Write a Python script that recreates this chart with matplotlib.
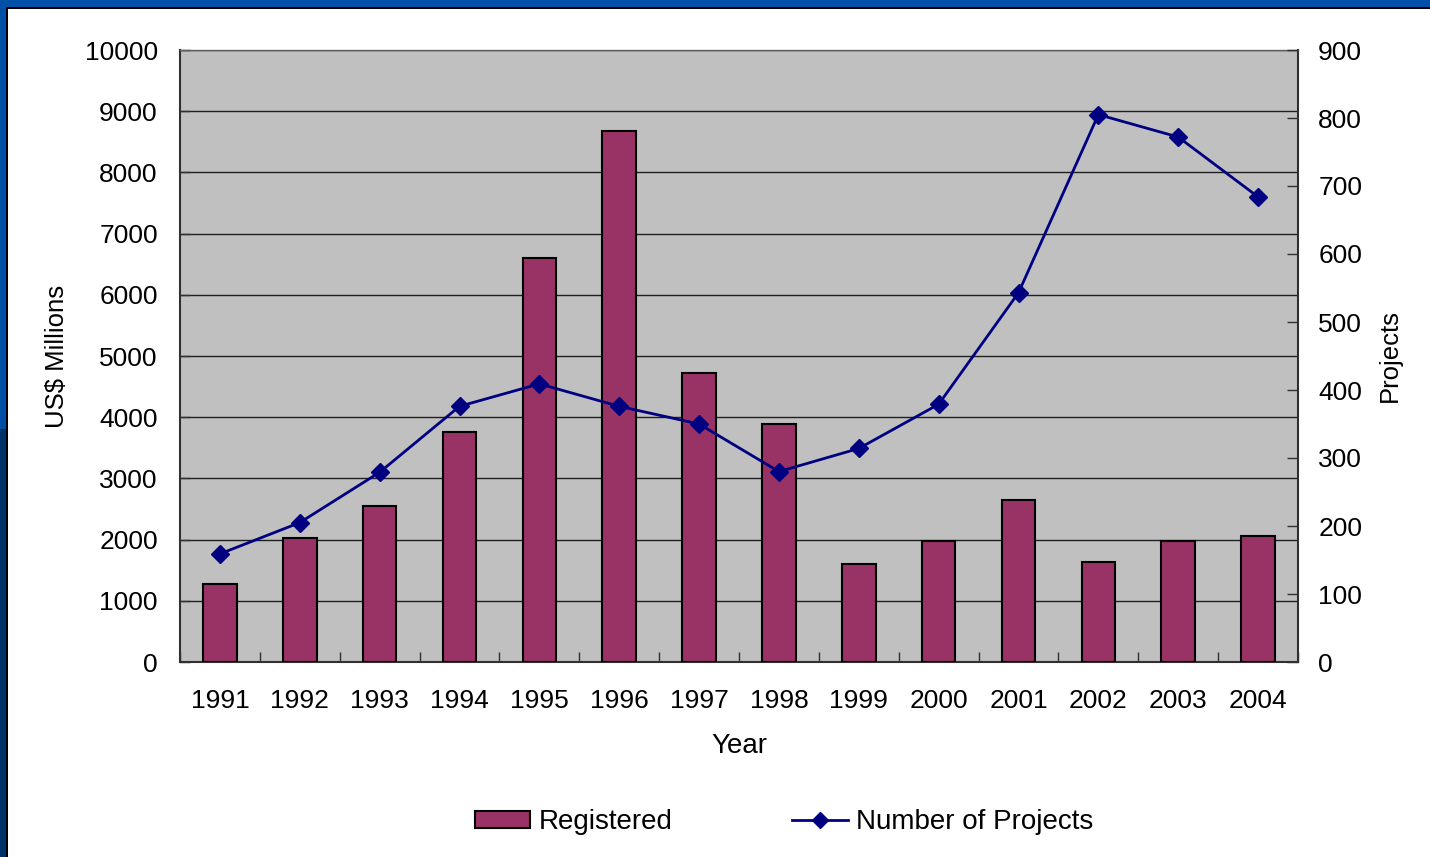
import matplotlib
matplotlib.use("Agg")
import matplotlib.pyplot as plt
from matplotlib.patches import Rectangle
from matplotlib.lines import Line2D
from matplotlib.patches import Patch
import numpy as np

plt.rcParams['font.family'] = ['Liberation Sans', 'DejaVu Sans']

years = ['1991', '1992', '1993', '1994', '1995', '1996', '1997',
         '1998', '1999', '2000', '2001', '2002', '2003', '2004']
registered = [1270, 2025, 2550, 3755, 6600, 8680, 4730,
              3885, 1600, 1985, 2640, 1630, 1985, 2060]
projects = [159, 205, 279, 376, 409, 376, 350,
            280, 314, 379, 543, 805, 772, 684]

W, H = 1430, 857
fig = plt.figure(figsize=(W / 100, H / 100), dpi=100)
fig.patch.set_facecolor('white')

# slide background border
fig.patches.append(Rectangle((0, 0), 1, 1, transform=fig.transFigure,
                             facecolor='#0050A8', edgecolor='none', zorder=-3))
fig.patches.append(Rectangle((0, 0), 6 / W, 0.5, transform=fig.transFigure,
                             facecolor='#003468', edgecolor='none', zorder=-3))
fig.patches.append(Rectangle((6 / W, 0), 1, 1 - 7 / H, transform=fig.transFigure,
                             facecolor='black', edgecolor='none', zorder=-2))
fig.patches.append(Rectangle((8 / W, 0), 1, 1 - 9 / H, transform=fig.transFigure,
                             facecolor='white', edgecolor='none', zorder=-1))

left, right, top, bottom = 180, 1298, 50, 662
ax = fig.add_axes([left / W, 1 - bottom / H, (right - left) / W, (bottom - top) / H])
ax.set_facecolor('#C0C0C0')

x = np.arange(len(years))
ax.bar(x, registered, width=0.42, color='#993366', edgecolor='black',
       linewidth=1.5, zorder=3, label='Registered')
ax.set_xlim(-0.5, len(years) - 0.5)
ax.set_ylim(0, 10000)
ax.set_yticks(np.arange(0, 10001, 1000))
ax.yaxis.grid(True, color='#202020', linewidth=1.0, zorder=0)
ax.set_axisbelow(True)

ax.set_xticks(x)
ax.set_xticklabels(years, fontsize=19)
ax.set_xticks(np.arange(-0.5, len(years), 1), minor=True)
ax.tick_params(axis='x', which='major', length=0, pad=19.5)
ax.tick_params(axis='x', which='minor', direction='in', length=7, width=1, color='#303030')
ax.tick_params(axis='y', direction='in', length=7, width=1, color='#303030',
               labelsize=19, pad=16)

ax.set_ylabel('US$ Millions', fontsize=18.5, labelpad=11.5)
ax.set_xlabel('Year', fontsize=20, labelpad=14)

for s in ['left', 'right', 'bottom']:
    ax.spines[s].set_color('#303030')
    ax.spines[s].set_linewidth(1.5)
ax.spines['top'].set_color('#606060')
ax.spines['top'].set_linewidth(1.0)

ax2 = ax.twinx()
ax2.plot(x, projects, color='#000080', marker='D', markersize=9,
         linewidth=2, zorder=4, label='Number of Projects')
ax2.set_ylim(0, 900)
ax2.set_yticks(np.arange(0, 901, 100))
ax2.tick_params(axis='y', direction='in', length=8, width=1, color='#303030',
                labelsize=19, pad=14.5)
ax2.set_ylabel('Projects', fontsize=18.5, labelpad=11.5)
for s in ['left', 'right', 'bottom', 'top']:
    ax2.spines[s].set_visible(False)

handles = [Patch(facecolor='#993366', edgecolor='black', linewidth=1.5),
           Line2D([0], [0], color='#000080', marker='D', markersize=8, linewidth=2)]
fig.legend(handles, ['Registered', 'Number of Projects'], loc='center',
           bbox_to_anchor=(784 / W, 1 - 822 / H), ncol=2, frameon=False,
           fontsize=20, handlelength=2.0, handletextpad=0.3, columnspacing=4.3,
           handleheight=0.55, borderpad=0, borderaxespad=0)

fig.savefig('out.png', dpi=100, facecolor=fig.get_facecolor())
